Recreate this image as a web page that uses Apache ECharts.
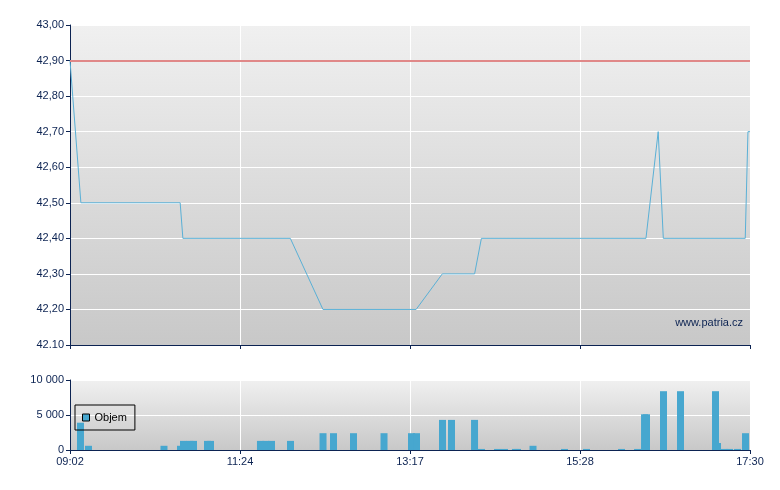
<!DOCTYPE html>
<html><head><meta charset="utf-8">
<script src="https://cdn.jsdelivr.net/npm/echarts@6/dist/echarts.min.js"></script>
<style>html,body{margin:0;padding:0;background:#fff}#c{width:780px;height:490px}</style>
</head><body><div id="c"></div>
<script>
// x axis: relative session position 0..100, ticks every 25
var xTickLabels = ['09:02', '11:24', '13:17', '15:28', '17:30'];
var priceTickLabels = ['42.10', '42,20', '42,30', '42,40', '42,50', '42,60', '42,70', '42,80', '42,90', '43,00'];
var volTickLabels = ['0', '5 000', '10 000'];
var refPrice = 42.90;
var pricePos = [0, 1.6, 16.2, 16.6, 32.4, 37.2, 50.9, 54.75, 59.5, 60.5, 84.7, 86.5, 87.25, 99.3, 99.7, 100];
var priceVal = [42.90, 42.50, 42.50, 42.40, 42.40, 42.20, 42.20, 42.30, 42.30, 42.40, 42.40, 42.70, 42.40, 42.40, 42.70, 42.70];
var volPos = [1.54, 2.72, 13.82, 16.25, 16.69, 17.65, 18.16, 20.22, 20.66, 28.01, 28.82, 29.63, 32.43, 37.21, 38.75, 41.69, 46.18, 50.22, 50.96, 54.78, 56.10, 59.49, 60.51, 62.87, 63.90, 65.51, 65.81, 68.09, 72.72, 75.96, 81.10, 83.46, 84.49, 84.78, 87.28, 89.78, 95.22, 94.93, 96.25, 96.99, 98.16, 99.34];
var volVal = [3900, 600, 600, 600, 1300, 1300, 1300, 1300, 1300, 1300, 1300, 1300, 1300, 2400, 2400, 2400, 2400, 2400, 2400, 4300, 4300, 4300, 150, 150, 150, 150, 150, 600, 150, 150, 150, 150, 5100, 5100, 8400, 8400, 1000, 8400, 150, 150, 150, 2400];

var navy = '#0c2352';
var font = 'Liberation Sans, Arial, sans-serif';
function grad() {
  return new echarts.graphic.LinearGradient(0, 0, 0, 1, [{offset: 0, color: '#f0f0f0'}, {offset: 1, color: '#c8c8c8'}]);
}
var priceData = pricePos.map(function (p, i) { return [p, priceVal[i]]; });
var volData = volPos.map(function (p, i) { return [p, volVal[i]]; });

var chart = echarts.init(document.getElementById('c'), null, {renderer: 'canvas'});
var xBase = {
  type: 'value', min: 0, max: 100, interval: 25,
  axisLine: {show: true, onZero: false, lineStyle: {color: navy, width: 1}},
  axisTick: {show: true, length: 4, lineStyle: {color: navy}},
  splitLine: {show: true, lineStyle: {color: '#ffffff', width: 1}}
};
chart.setOption({
  animation: false,
  textStyle: {fontFamily: font},
  grid: [
    {left: 70, top: 25, width: 680, height: 320, show: true, backgroundColor: grad(), borderWidth: 0},
    {left: 70, top: 380, width: 680, height: 70, show: true, backgroundColor: grad(), borderWidth: 0}
  ],
  legend: {
    data: ['Objem'], left: 75, top: 405, orient: 'vertical',
    itemWidth: 7, itemHeight: 7, itemGap: 4,
    padding: [7, 8, 7, 7],
    borderColor: '#000', borderWidth: 1, backgroundColor: 'transparent',
    textStyle: {color: '#000', fontSize: 11, fontFamily: font},
    icon: 'rect',
    itemStyle: {borderColor: '#000', borderWidth: 1}
  },
  xAxis: [
    Object.assign({}, xBase, {gridIndex: 0, axisLabel: {show: false}}),
    Object.assign({}, xBase, {gridIndex: 1, axisLabel: {show: true, color: navy, fontSize: 11, fontFamily: font, margin: 6,
      formatter: function (v) { return xTickLabels[Math.round(v / 25)]; }}})
  ],
  yAxis: [
    {gridIndex: 0, type: 'value', min: 42.1, max: 43.0, interval: 0.1,
      axisLine: {show: true, lineStyle: {color: navy}},
      axisTick: {show: true, length: 4, lineStyle: {color: navy}},
      splitLine: {show: true, lineStyle: {color: '#ffffff'}},
      axisLabel: {color: navy, fontSize: 11, fontFamily: font, margin: 6,
        formatter: function (v) { return priceTickLabels[Math.round((v - 42.1) * 10)]; }}},
    {gridIndex: 1, type: 'value', min: 0, max: 10000, interval: 5000,
      axisLine: {show: true, lineStyle: {color: navy}},
      axisTick: {show: true, length: 4, lineStyle: {color: navy}},
      splitLine: {show: true, lineStyle: {color: '#ffffff'}},
      axisLabel: {color: navy, fontSize: 11, fontFamily: font, margin: 6,
        formatter: function (v) { return volTickLabels[Math.round(v / 5000)]; }}}
  ],
  graphic: [
    {type: 'text', right: 37, top: 317, style: {text: 'www.patria.cz', fill: navy, font: '11px ' + font}}
  ],
  series: [
    {name: 'Cena', type: 'line', xAxisIndex: 0, yAxisIndex: 0, data: priceData, showSymbol: false,
      lineStyle: {color: '#5ab0d6', width: 1}, z: 3,
      markLine: {silent: true, symbol: 'none', label: {show: false},
        lineStyle: {color: '#e08888', width: 2, type: 'solid'},
        data: [{yAxis: refPrice}]}},
    {name: 'Objem', type: 'bar', xAxisIndex: 1, yAxisIndex: 1, data: volData, barWidth: 7,
      itemStyle: {color: '#47a7cf'}}
  ]
});
</script></body></html>
